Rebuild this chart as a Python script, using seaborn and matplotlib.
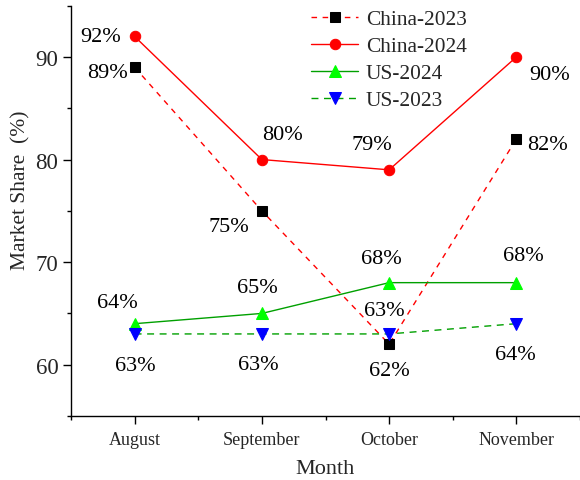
import numpy as np
import pandas as pd
import matplotlib
matplotlib.use("Agg")
import matplotlib.pyplot as plt
from matplotlib.ticker import MultipleLocator
import seaborn as sns

# ---- data -------------------------------------------------------------
months = ["August", "September", "October", "November"]
china_2023 = [89, 75, 62, 82]
china_2024 = [92, 80, 79, 90]
us_2024 = [64, 65, 68, 68]
us_2023 = [63, 63, 63, 64]

sns.set_theme(style="ticks")
plt.rcParams["font.family"] = ["Liberation Serif", "DejaVu Serif"]
plt.rcParams["mathtext.fontset"] = "stix"

fig = plt.figure(figsize=(5.8, 4.81), dpi=100)
ax = fig.add_axes([71 / 580, 1 - 417 / 481, (580 - 71) / 580, (417 - 6.7) / 481])

series = [
    ("China-2023", china_2023, dict(color="red", linestyle=(0, (4, 4)), marker="s",
                                    markersize=6.5, markerfacecolor="black",
                                    markeredgecolor="black")),
    ("China-2024", china_2024, dict(color="red", linestyle="-", marker="o",
                                    markersize=7.5, markerfacecolor="red",
                                    markeredgecolor="red")),
    ("US-2024", us_2024, dict(color="#00a000", linestyle="-", marker="^",
                              markersize=8, markerfacecolor="#00ff00",
                              markeredgecolor="#00ff00")),
    ("US-2023", us_2023, dict(color="#00a000", linestyle=(0, (5, 4)), marker="v",
                              markersize=8, markerfacecolor="#0000ff",
                              markeredgecolor="#0000ff")),
]

for name, vals, style in series:
    df = pd.DataFrame({"Month": months, "Share": vals})
    sns.lineplot(data=df, x="Month", y="Share", sort=False, ax=ax, label=name,
                 linewidth=1.0, **style)

# value labels: (dx, dy) offsets in pixels from each point
offsets = {
    "China-2023": [(-27, -10), (-33, -20), (0, -31), (31, -10)],
    "China-2024": [(-34, -5), (21, 21), (-17, 21), (33, -22)],
    "US-2024": [(-17, 17), (-4, 21), (-8, 20), (7, 23)],
    "US-2023": [(1, -36), (-4, -35), (-5, 19), (-1, -35)],
}
for name, vals, _ in series:
    for i, v in enumerate(vals):
        dx, dy = offsets[name][i]
        ax.annotate(f"{v}%", (i, v), xytext=(dx, dy), textcoords="offset pixels",
                    ha="center", va="baseline", fontsize=16, color="black")

ax.set_xlim(-0.5, 3.5)
ax.set_ylim(55, 95)
ax.set_xticks(range(len(months)))
ax.set_xticklabels(months)
ax.yaxis.set_major_locator(MultipleLocator(10))
ax.yaxis.set_minor_locator(MultipleLocator(5))
ax.set_xticks(np.arange(-0.5, 3.6, 1.0), minor=True)

ax.tick_params(axis="both", which="major", direction="out", length=6, width=1,
               color="black")
ax.tick_params(axis="both", which="minor", direction="out", length=3, width=1,
               color="black")
ax.tick_params(axis="x", which="major", labelsize=13, pad=5)
ax.tick_params(axis="y", which="major", labelsize=16.5, pad=3)

for side in ("top", "right"):
    ax.spines[side].set_visible(False)
for side in ("left", "bottom"):
    ax.spines[side].set_color("black")
    ax.spines[side].set_linewidth(1)

ax.set_xlabel("Month", fontsize=16, labelpad=8)
ax.set_ylabel("Market Share  (%)", fontsize=15.5)
ax.yaxis.set_label_coords(-0.079, 0.553)

ax.legend(loc="upper left", bbox_to_anchor=(309 / 580, 1.0 - 8 / 481),
          bbox_transform=fig.transFigure, frameon=False, fontsize=15.4,
          handlelength=2.2, handletextpad=0.35, labelspacing=0.33,
          borderpad=0.1, borderaxespad=0)

fig.savefig("out.png", dpi=100)
